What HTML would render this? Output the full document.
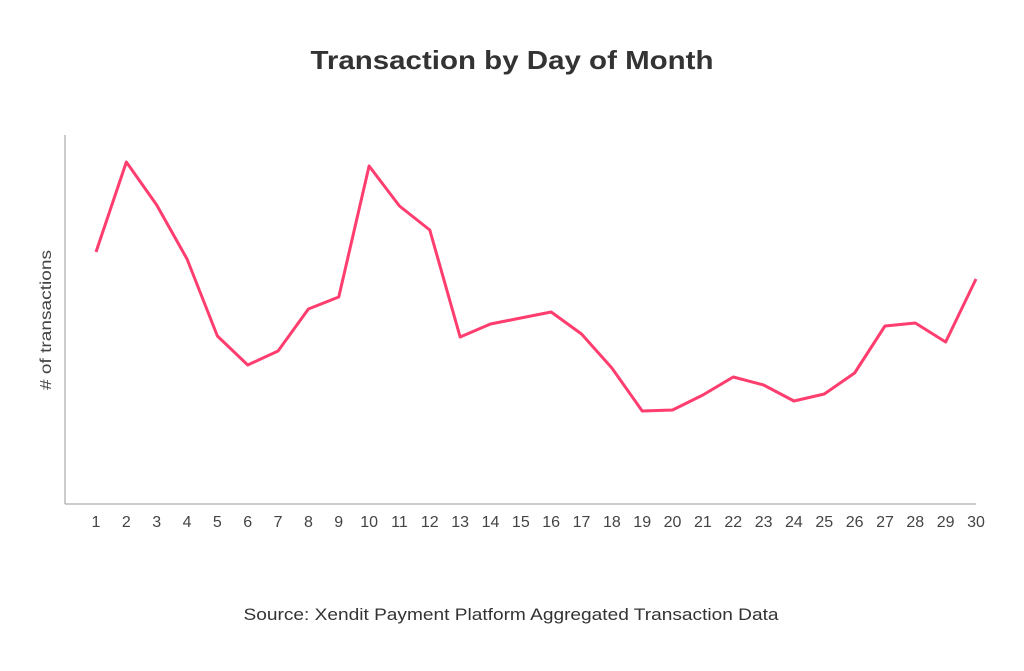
<!DOCTYPE html>
<html><head><meta charset="utf-8"><style>
body{margin:0;background:#fff;width:1024px;height:666px;overflow:hidden;font-family:"Liberation Sans",sans-serif;}
</style></head><body>
<svg width="1024" height="666">
<text x="512" y="69" text-anchor="middle" font-size="26" font-weight="bold" fill="#333" textLength="403" lengthAdjust="spacingAndGlyphs">Transaction by Day of Month</text>
<line x1="65" y1="135" x2="65" y2="504" stroke="#999"/>
<line x1="65" y1="504" x2="976" y2="504" stroke="#999"/>
<text transform="translate(51,320) rotate(-90)" text-anchor="middle" font-size="16" fill="#444" textLength="140" lengthAdjust="spacingAndGlyphs"># of transactions</text>
<text x="511" y="620" text-anchor="middle" font-size="17" fill="#333" textLength="535" lengthAdjust="spacingAndGlyphs">Source: Xendit Payment Platform Aggregated Transaction Data</text>
<g id="ticks"></g>
<polyline id="line" fill="none" stroke="#ff3d6e" stroke-width="3" stroke-linejoin="round"/>
</svg>
<script>
const days=[1,2,3,4,5,6,7,8,9,10,11,12,13,14,15,16,17,18,19,20,21,22,23,24,25,26,27,28,29,30];
const values=[252,342,299,245,168,139,153,195,207,338,298,274,167,180,186,192,170,136,93,94,109,127,119,103,110,131,178,181,162,225];
const x=d=>96+(d-1)*(976-96)/29;
const y=v=>504-v;
const g=document.getElementById('ticks');
days.forEach(d=>{
 const t=document.createElementNS('http://www.w3.org/2000/svg','text');
 t.setAttribute('x',x(d));t.setAttribute('y',527);t.setAttribute('text-anchor','middle');
 t.setAttribute('font-size','16');t.setAttribute('fill','#444');
 
 
 t.textContent=d;g.appendChild(t);
});
document.getElementById('line').setAttribute('points',days.map((d,i)=>x(d)+','+y(values[i])).join(' '));
</script>
</body></html>
